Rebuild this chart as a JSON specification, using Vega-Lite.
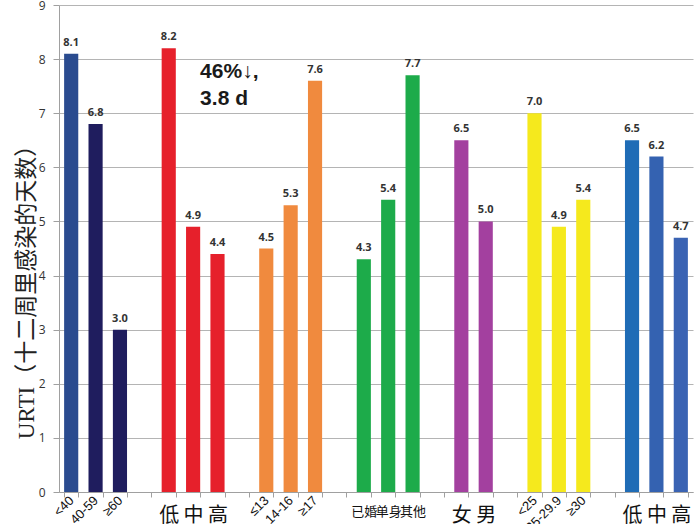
{
  "$schema": "https://vega.github.io/schema/vega-lite/v6.json",
  "width": 634,
  "height": 487,
  "autosize": "none",
  "padding": {"left": 59, "top": 5, "right": 2, "bottom": 32},
  "background": "white",
  "config": {"view": {"stroke": null}},
  "datasets": {
    "bars": [
      {"cat": "a|<40", "val": 8.1},
      {"cat": "a|40-59", "val": 6.8},
      {"cat": "a|≥60", "val": 3.0},
      {"cat": "e|低", "val": 8.2},
      {"cat": "e|中", "val": 4.9},
      {"cat": "e|高", "val": 4.4},
      {"cat": "s|≤13", "val": 4.5},
      {"cat": "s|14-16", "val": 5.3},
      {"cat": "s|≥17", "val": 7.6},
      {"cat": "m|已婚", "val": 4.3},
      {"cat": "m|单身", "val": 5.4},
      {"cat": "m|其他", "val": 7.7},
      {"cat": "g|女", "val": 6.5},
      {"cat": "g|男", "val": 5.0},
      {"cat": "b|<25", "val": 7.0},
      {"cat": "b|25-29.9", "val": 4.9},
      {"cat": "b|≥30", "val": 5.4},
      {"cat": "f|低", "val": 6.5},
      {"cat": "f|中", "val": 6.2},
      {"cat": "f|高", "val": 4.7}
    ],
    "notes": [
      {"cat": "e|中", "y": 7.76, "note": "46%↓,"},
      {"cat": "e|中", "y": 7.27, "note": "3.8 d"}
    ]
  },
  "layer": [
    {
      "data": {"name": "bars"},
      "mark": {"type": "bar"},
      "encoding": {
        "x": {
          "field": "cat",
          "type": "nominal",
          "scale": {
            "domain": ["a|<40", "a|40-59", "a|≥60", "x1", "e|低", "e|中", "e|高", "x2", "s|≤13", "s|14-16", "s|≥17", "x3", "m|已婚", "m|单身", "m|其他", "x4", "g|女", "g|男", "x5", "b|<25", "b|25-29.9", "b|≥30", "x6", "f|低", "f|中", "f|高"],
            "paddingInner": 0.42,
            "paddingOuter": 0.21
          },
          "axis": {
            "orient": "bottom",
            "title": null,
            "tickBand": "extent",
            "grid": false,
            "domainColor": "#a0a0a0",
            "tickColor": "#a0a0a0",
            "tickSize": 5,
            "labelAngle": -45,
            "labelAlign": "right",
            "labelBaseline": "middle",
            "labelPadding": 1,
            "labelFontSize": 13,
            "labelFont": "Liberation Sans",
            "labelColor": "#111111",
            "labelOverlap": false,
            "labelExpr": "(slice(datum.label,0,2)=='a|'||slice(datum.label,0,2)=='s|'||slice(datum.label,0,2)=='b|') ? slice(datum.label,2) : ''"
          }
        },
        "y": {
          "field": "val",
          "type": "quantitative",
          "scale": {"domain": [0, 9], "nice": false},
          "axis": {
            "values": [0, 1, 2, 3, 4, 5, 6, 7, 8, 9],
            "format": "d",
            "title": "URTI（十二周里感染的天数）",
            "titleFont": "Liberation Serif, Noto Sans CJK SC",
            "titleFontSize": 23,
            "titleFontWeight": "normal",
            "titleColor": "#222222",
            "titleAngle": -90,
            "titleAlign": "center",
            "titleBaseline": "middle",
            "titleX": -33,
            "titleY": 281,
            "gridColor": "#b4b4b4",
            "gridWidth": 1,
            "domainColor": "#a0a0a0",
            "tickColor": "#a0a0a0",
            "tickSize": 6,
            "labelFontSize": 12,
            "labelFont": "Open Sans",
            "labelColor": "#333333",
            "labelPadding": 8
          }
        },
        "color": {
          "field": "cat",
          "type": "nominal",
          "legend": null,
          "scale": {
            "domain": ["a|<40", "a|40-59", "a|≥60", "e|低", "e|中", "e|高", "s|≤13", "s|14-16", "s|≥17", "m|已婚", "m|单身", "m|其他", "g|女", "g|男", "b|<25", "b|25-29.9", "b|≥30", "f|低", "f|中", "f|高"],
            "range": ["#2a4b8f", "#1f1d5e", "#1f1d5e", "#e6202b", "#e6202b", "#e6202b", "#f08a3e", "#f08a3e", "#f08a3e", "#1dab4a", "#1dab4a", "#1dab4a", "#a3409f", "#a3409f", "#f5e91d", "#f5e91d", "#f5e91d", "#1f6cb6", "#3462b1", "#3a63b3"]
          }
        }
      }
    },
    {
      "data": {"name": "bars"},
      "mark": {"type": "text", "baseline": "bottom", "dy": -6, "fontSize": 11, "fontWeight": "bold", "font": "Open Sans", "color": "#333333"},
      "encoding": {
        "x": {
          "field": "cat",
          "type": "nominal",
          "axis": {
            "orient": "bottom",
            "title": null,
            "tickBand": "extent",
            "grid": false,
            "domain": false,
            "ticks": false,
            "labelAngle": 0,
            "labelAlign": "center",
            "labelBaseline": "top",
            "labelPadding": 13,
            "labelFontSize": {"condition": {"test": "slice(datum.label,0,2)=='m|'", "value": 13}, "value": 20},
            "labelFont": "Noto Sans CJK SC",
            "labelColor": "#111111",
            "labelOverlap": false,
            "labelExpr": "(slice(datum.label,0,2)=='e|'||slice(datum.label,0,2)=='m|'||slice(datum.label,0,2)=='g|'||slice(datum.label,0,2)=='f|') ? slice(datum.label,2) : ''"
          }
        },
        "y": {"field": "val", "type": "quantitative"},
        "text": {"field": "val", "type": "quantitative", "format": ".1f"}
      }
    },
    {
      "data": {"name": "notes"},
      "mark": {"type": "text", "align": "left", "baseline": "middle", "dx": 7, "fontSize": 21, "fontWeight": "bold", "font": "Liberation Sans", "color": "#1a1a1a"},
      "encoding": {
        "x": {"field": "cat", "type": "nominal", "axis": null},
        "y": {"field": "y", "type": "quantitative"},
        "text": {"field": "note", "type": "nominal"}
      }
    }
  ],
  "resolve": {"axis": {"x": "independent"}}
}
